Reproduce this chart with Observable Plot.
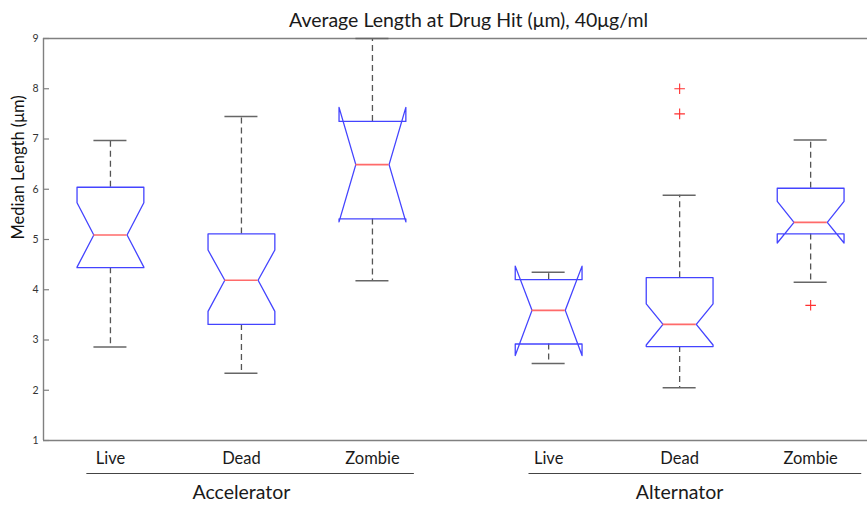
<!DOCTYPE html>
<html><head><meta charset="utf-8">
<script src="https://cdn.jsdelivr.net/npm/d3@7"></script>
<script src="https://cdn.jsdelivr.net/npm/@observablehq/plot@0.6"></script>
<style>body{margin:0;background:#fff}</style>
</head><body><div id="chart"></div>
<script>
// ---- data ----
const title = "Average Length at Drug Hit (\u03bcm), 40\u03bcg/ml";
const yLabel = "Median Length (\u03bcm)";
const groups = ["Accelerator", "Alternator"];
const conditions = ["Live", "Dead", "Zombie"];
// order: Accelerator Live, Dead, Zombie, Alternator Live, Dead, Zombie
const whiskerHi = [6.97, 7.45, 9.00, 4.35, 5.88, 6.98];
const q3        = [6.04, 5.11, 7.35, 4.20, 4.24, 6.02];
const notchHi   = [5.73, 4.79, 7.63, 4.47, 3.72, 5.76];
const median    = [5.09, 4.19, 6.49, 3.59, 3.31, 5.34];
const notchLo   = [4.45, 3.57, 5.35, 2.69, 2.90, 4.93];
const q1        = [4.44, 3.31, 5.41, 2.92, 2.87, 5.11];
const whiskerLo = [2.86, 2.34, 4.18, 2.53, 2.05, 4.15];
const outlierBox   = [4, 4, 5];
const outlierValue = [8.00, 7.50, 3.69];
const yTicks = [1, 2, 3, 4, 5, 6, 7, 8, 9];

// ---- layout constants ----
const groupGap = 0.345;
const halfW = 0.255, notchW = 0.127, capW = 0.126;
const xDom = [0.489, 6.779];

const boxes = [];
groups.forEach((g, gi) => conditions.forEach((c, ci) => {
  const i = gi * conditions.length + ci;
  boxes.push({i, group: g, cond: c, pos: 1 + ci + gi * (conditions.length + groupGap),
    wHi: whiskerHi[i], q3: q3[i], nHi: notchHi[i], med: median[i], nLo: notchLo[i], q1: q1[i], wLo: whiskerLo[i]});
}));

const verts = [];
for (const b of boxes) {
  const p = b.pos;
  const pts = [
    [p - halfW, b.q1], [p - halfW, b.nLo], [p - notchW, b.med], [p - halfW, b.nHi], [p - halfW, b.q3],
    [p + halfW, b.q3], [p + halfW, b.nHi], [p + notchW, b.med], [p + halfW, b.nLo], [p + halfW, b.q1],
    [p - halfW, b.q1]
  ];
  pts.forEach(([x, y]) => verts.push({k: b.i, x, y}));
}
const outliers = outlierBox.map((bi, j) => ({x: boxes[bi].pos, y: outlierValue[j]}));

const groupCenters = groups.map((g, gi) => d3.mean(boxes.filter(b => b.group === g), b => b.pos));
const groupSpans = groups.map((g, gi) => {
  const bs = boxes.filter(b => b.group === g);
  return {x1: bs[0].pos - (gi ? 0.15 : 0.18), x2: bs[bs.length - 1].pos + (gi ? 0.39 : 0.32)};
});
const condByPos = new Map(boxes.map(b => [b.pos, b.cond]));
const groupByPos = new Map(groupCenters.map((p, i) => [p, groups[i]]));

const font = "Lato, 'Open Sans', sans-serif";
const frameColor = "#808080";

const chart = Plot.plot({
  width: 867, height: 508,
  marginLeft: 43, marginRight: 0, marginTop: 38, marginBottom: 68,
  style: {fontFamily: font, background: "#fff", color: "#222"},
  x: {type: "linear", domain: xDom},
  y: {domain: [1, 9]},
  marks: [
    // frame
    Plot.ruleX([xDom[0]], {y1: 1, y2: 9, stroke: frameColor, strokeWidth: 1.4}),
    Plot.ruleY([1, 9], {x1: xDom[0], x2: xDom[1], stroke: frameColor, strokeWidth: 1.4}),
    // inward y ticks
    Plot.ruleY(yTicks, {x1: xDom[0], x2: xDom[0] + 6 / 131, stroke: frameColor, strokeWidth: 1.2}),
    Plot.axisY({ticks: yTicks, tickSize: 0, tickPadding: 5, fontSize: 10.5, fill: "#333", label: null}),
    Plot.text([yLabel], {frameAnchor: "left", rotate: -90, dx: -25, fontSize: 16.5, fill: "#111"}),
    // whiskers
    Plot.ruleX(boxes, {x: "pos", y1: "q3", y2: "wHi", stroke: "#555", strokeWidth: 1.3, strokeDasharray: "6,4"}),
    Plot.ruleX(boxes, {x: "pos", y1: "q1", y2: "wLo", stroke: "#555", strokeWidth: 1.3, strokeDasharray: "6,4"}),
    Plot.ruleY(boxes, {y: "wHi", x1: d => d.pos - capW, x2: d => d.pos + capW, stroke: "#666", strokeWidth: 1.5}),
    Plot.ruleY(boxes, {y: "wLo", x1: d => d.pos - capW, x2: d => d.pos + capW, stroke: "#666", strokeWidth: 1.5}),
    // notched boxes
    Plot.line(verts, {x: "x", y: "y", z: "k", stroke: "#4444ff", strokeWidth: 1.3}),
    // medians
    Plot.ruleY(boxes, {y: "med", x1: d => d.pos - notchW, x2: d => d.pos + notchW, stroke: "#ff6a6a", strokeWidth: 1.6}),
    // outliers
    Plot.dot(outliers, {x: "x", y: "y", symbol: "plus", r: 3.5, stroke: "#ff3030", strokeWidth: 1.1}),
    // category labels
    Plot.axisX({ticks: boxes.map(b => b.pos), tickFormat: d => condByPos.get(d), tickSize: 0, tickPadding: 12, fontSize: 16.5, fill: "#1a1a1a", label: null}),
    Plot.ruleY(groupSpans, {y: () => 1, x1: "x1", x2: "x2", dy: 33, stroke: "#444", strokeWidth: 1}),
    Plot.axisX({ticks: groupCenters, tickFormat: d => groupByPos.get(d), tickSize: 0, tickPadding: 45, fontSize: 19.5, fill: "#1a1a1a", label: null}),
    // title
    Plot.text([title], {frameAnchor: "top", dy: -25, dx: 13, fontSize: 19.5, fill: "#1a1a1a"})
  ]
});
document.getElementById("chart").appendChild(chart);
</script></body></html>
